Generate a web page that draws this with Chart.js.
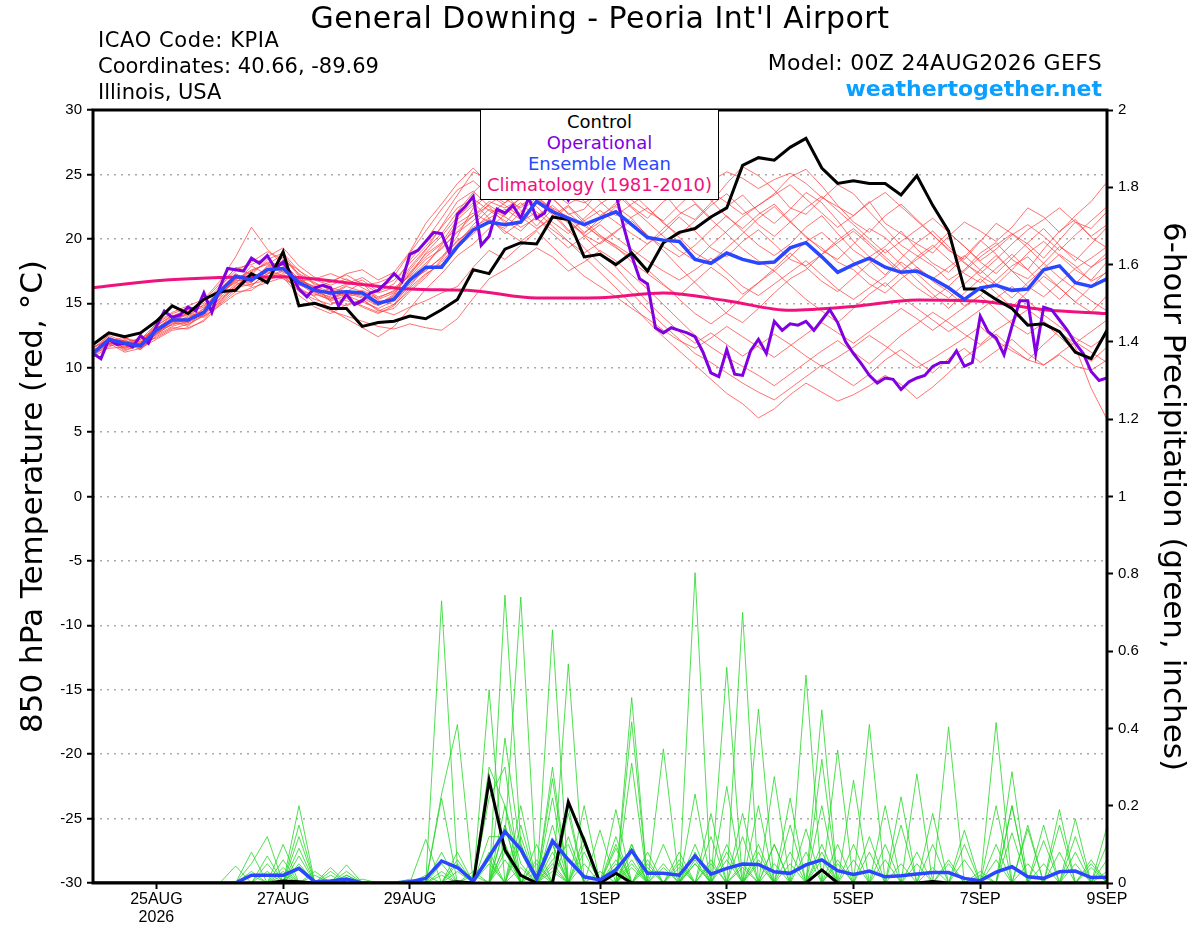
<!DOCTYPE html>
<html>
<head>
<meta charset="utf-8">
<title>General Downing - Peoria Int'l Airport</title>
<script src="https://cdn.jsdelivr.net/npm/chart.js@4.4.1/dist/chart.umd.min.js"></script>
<style>
  body { margin: 0; background: #fff; }
  #wrap { position: relative; width: 1200px; height: 927px; font-family: "DejaVu Sans", "Liberation Sans", Arial, sans-serif; }
  #meteogram { position: absolute; left: 0; top: 0; }
  .txt { position: absolute; white-space: nowrap; color: #000; }
  #legendBox { position: absolute; left: 480px; top: 109px; width: 237px; height: 88px; border: 1px solid #000;
               background: #fff; text-align: center; font-size: 18px; line-height: 21px; padding-top: 1px; }
</style>
</head>
<body>
<div id="wrap">
  <canvas id="meteogram" width="1200" height="927"></canvas>

  <div class="txt" style="left:0;width:1200px;text-align:center;top:1px;font-size:30px;line-height:34px;letter-spacing:0.5px">General Downing - Peoria Int'l Airport</div>
  <div class="txt" style="left:98px;top:27px;font-size:21px;line-height:26px;letter-spacing:0.6px">ICAO Code: KPIA</div>
  <div class="txt" style="left:98px;top:53px;font-size:21px;line-height:26px">Coordinates: 40.66, -89.69</div>
  <div class="txt" style="left:98px;top:79px;font-size:21px;line-height:26px">Illinois, USA</div>
  <div class="txt" style="right:98px;top:50px;font-size:22px;line-height:26px;letter-spacing:0.3px">Model: 00Z 24AUG2026 GEFS</div>
  <div class="txt" style="right:98px;top:75px;font-size:22px;line-height:28px;font-weight:bold;color:#0aa0ff">weathertogether.net</div>

  <div id="legendBox">
    <div style="color:#000">Control</div>
    <div style="color:#8000e0">Operational</div>
    <div style="color:#2a46ff">Ensemble Mean</div>
    <div style="color:#f0127c">Climatology (1981-2010)</div>
  </div>
</div>

<script>
// x axis: hours after 00Z 24AUG2026
const xTickHours = [24, 72, 120, 192, 240, 288, 336, 384];
const xTickLabels = [['25AUG', '2026'], '27AUG', '29AUG', '1SEP', '3SEP', '5SEP', '7SEP', '9SEP'];

// 850 hPa temperature (C), 6-hourly
const tempControl = [
  11.8, 12.7, 12.4, 12.7, 13.6, 14.8, 14.2, 15.3,
  15.9, 16.0, 17.3, 16.6, 19.0, 14.8, 15.0, 14.6,
  14.6, 13.2, 13.5, 13.6, 14.0, 13.8, 14.5, 15.3,
  17.6, 17.3, 19.2, 19.7, 19.6, 21.7, 21.5, 18.6,
  18.8, 18.0, 18.9, 17.5, 19.7, 20.5, 20.8, 21.7,
  22.4, 25.7, 26.3, 26.1, 27.1, 27.8, 25.5, 24.3,
  24.5, 24.3, 24.3, 23.4, 24.9, 22.6, 20.6, 16.1,
  16.1, 15.3, 14.6, 13.3, 13.4, 12.8, 11.2, 10.7,
  12.9
];

const tempMean = [
  11.1, 12.2, 11.9, 11.7, 12.9, 13.7, 13.7, 14.3,
  15.9, 17.1, 16.8, 17.6, 17.7, 16.6, 16.0, 15.8,
  15.9, 15.8, 15.0, 15.3, 16.8, 17.8, 17.8, 19.4,
  20.7, 21.3, 21.1, 21.3, 22.9, 22.1, 21.6, 21.1,
  21.6, 22.1, 21.1, 20.1, 19.9, 19.8, 18.4, 18.1,
  18.9, 18.4, 18.1, 18.2, 19.3, 19.7, 18.6, 17.4,
  18.0, 18.5, 17.8, 17.4, 17.5, 16.9, 16.2, 15.3,
  16.2, 16.4, 16.0, 16.1, 17.6, 17.9, 16.6, 16.3,
  16.9
];

// operational run, 3-hourly
const tempOperational = [
  11.1, 10.7, 12.2, 11.8, 11.9, 11.6, 12.5, 11.9,
  13.2, 14.4, 13.9, 14.1, 14.7, 14.4, 15.8, 14.3,
  16.2, 17.7, 17.6, 17.5, 18.5, 18.1, 18.7, 17.7,
  18.2, 17.3, 16.1, 15.5, 16.2, 16.4, 16.2, 14.8,
  15.7, 14.9, 15.2, 15.8, 16.0, 16.6, 17.3, 16.7,
  18.8, 19.1, 19.8, 20.5, 20.4, 18.9, 21.9, 22.5,
  23.3, 19.5, 20.2, 22.3, 22.0, 22.6, 21.6, 23.2,
  21.6, 22.0, 23.5, 24.0, 23.0, 24.0, 24.5, 25.0,
  24.5, 24.0, 23.5, 20.9, 18.7, 16.9, 16.5, 13.1,
  12.7, 13.1, 12.9, 12.7, 12.4, 11.2, 9.6, 9.3,
  11.4, 9.5, 9.4, 11.3, 12.2, 11.1, 13.6, 12.9,
  13.4, 13.3, 13.6, 12.9, 13.7, 14.5, 13.5, 12.0,
  11.1, 10.3, 9.4, 8.8, 9.2, 9.1, 8.3, 8.9,
  9.2, 9.4, 10.1, 10.4, 10.4, 11.3, 10.1, 10.4,
  14.0, 12.8, 12.3, 11.0, 13.2, 15.2, 15.2, 11.1,
  14.7, 14.5, 13.7, 12.9, 11.9, 11.1, 9.7, 9.0,
  9.2
];

// climatology, daily
const tempClimatology = [16.2, 16.75, 17.0, 17.06, 16.6, 16.1, 15.97, 15.4, 15.43, 15.8, 15.2, 14.45, 14.75, 15.25, 15.15, 14.5, 14.2];

// ensemble members, 6-hourly
const tempMembers = [
  [11.4, 12.0, 11.6, 11.9, 13.2, 14.1, 13.5, 14.6, 16.2, 17.8, 17.2, 18.4, 18.9,
   17.5, 16.8, 16.4, 16.9, 16.2, 15.5, 15.9, 17.8, 19.2, 20.4,
   22.1, 23.6, 24.8, 23.9, 24.6, 25.3, 24.1, 23.2, 22.8, 23.5,
   24.2, 23.0, 22.1, 21.4, 22.6, 23.8, 24.5, 25.2, 24.7, 23.9,
   24.6, 25.1, 24.3, 23.2, 22.5, 21.8, 22.9, 21.2, 20.4, 19.6,
   18.9, 20.2, 21.3, 20.6, 19.8, 20.9, 22.4, 21.7, 20.5, 21.8, 22.9, 24.4],
  [10.9, 11.8, 12.1, 11.5, 12.6, 13.4, 14.0, 14.9, 15.6, 16.9, 17.5, 18.1, 17.4,
   16.9, 16.2, 15.7, 16.4, 16.8, 15.9, 16.5, 18.3, 19.9, 21.6,
   23.4, 25.2, 24.6, 23.1, 22.4, 23.7, 24.9, 24.2, 22.9, 21.8,
   22.6, 23.9, 24.8, 23.6, 22.1, 21.5, 22.8, 24.3, 25.6, 24.9,
   23.8, 22.4, 21.9, 23.1, 24.2, 23.5, 22.1, 20.8, 19.5, 18.7,
   17.9, 16.8, 17.6, 18.9, 19.7, 18.4, 17.6, 19.2, 20.6, 21.5, 20.1, 19.3],
  [11.2, 12.4, 11.8, 12.1, 13.0, 13.8, 14.2, 14.0, 15.4, 16.5, 17.9, 17.2, 18.6,
   17.1, 15.9, 15.3, 15.8, 15.4, 14.8, 15.6, 17.4, 18.8, 19.7,
   21.5, 22.6, 23.8, 24.9, 25.4, 24.3, 23.6, 22.7, 23.4, 24.6,
   23.8, 22.5, 21.6, 22.9, 23.6, 24.9, 23.7, 22.8, 21.9, 22.6,
   23.5, 24.8, 25.4, 24.1, 22.6, 21.3, 20.5, 21.8, 22.7, 21.5,
   20.3, 19.1, 18.4, 19.8, 21.2, 20.4, 19.6, 18.5, 19.9, 21.3, 20.8, 22.1],
  [11.6, 12.1, 11.3, 11.8, 12.7, 13.5, 13.9, 14.4, 16.0, 17.3, 16.6, 17.9, 18.2,
   16.4, 16.1, 16.7, 17.2, 16.5, 15.8, 16.2, 17.1, 18.4, 19.2,
   20.6, 21.8, 22.9, 22.4, 23.1, 24.5, 23.2, 21.9, 22.3, 23.8,
   24.6, 25.3, 24.2, 23.1, 24.0, 22.8, 21.6, 22.5, 23.4, 22.1,
   21.2, 22.3, 23.6, 22.8, 21.4, 19.8, 18.6, 19.4, 20.6, 19.2,
   18.1, 17.4, 18.6, 19.9, 18.8, 17.5, 16.9, 18.1, 19.4, 18.6, 17.8, 18.9],
  [11.0, 12.3, 12.0, 11.6, 12.8, 13.9, 13.3, 14.1, 15.7, 16.7, 17.0, 17.6, 17.1,
   16.0, 15.6, 16.2, 15.9, 16.6, 15.2, 14.9, 16.5, 17.6, 18.5,
   20.2, 22.4, 23.5, 22.8, 24.0, 25.6, 24.7, 23.3, 24.1, 22.9,
   21.8, 22.7, 23.5, 24.4, 25.1, 24.2, 23.0, 21.7, 20.8, 21.9,
   22.7, 21.4, 20.1, 19.3, 18.2, 17.6, 16.5, 15.8, 16.9, 17.8,
   16.7, 15.9, 14.8, 15.6, 16.8, 17.9, 18.6, 17.4, 16.2, 15.1, 16.3, 17.5],
  [11.3, 11.9, 11.7, 12.2, 13.1, 13.6, 14.3, 14.7, 15.5, 17.0, 16.4, 17.3, 17.8,
   16.8, 16.3, 15.9, 15.5, 15.8, 15.1, 15.4, 16.8, 17.5, 18.6,
   19.8, 20.9, 21.6, 22.3, 21.5, 22.8, 21.9, 20.6, 21.4, 22.2,
   21.3, 20.4, 19.6, 20.5, 21.7, 20.6, 19.3, 18.6, 19.8, 20.7,
   19.6, 18.4, 17.9, 18.8, 19.9, 20.8, 19.7, 18.6, 17.5, 18.4,
   19.3, 20.5, 19.4, 18.2, 17.3, 18.5, 19.7, 20.8, 19.5, 18.3, 19.6, 20.9],
  [10.8, 11.6, 12.2, 11.4, 12.5, 13.2, 13.6, 14.2, 15.1, 16.4, 17.1, 16.9, 17.5,
   16.6, 15.8, 15.2, 15.6, 15.1, 14.6, 15.2, 16.3, 17.9, 19.5,
   21.2, 22.0, 21.3, 20.8, 22.1, 23.2, 22.4, 21.7, 20.5, 21.3,
   22.5, 21.6, 20.2, 19.4, 18.6, 19.5, 20.7, 21.8, 20.6, 19.5,
   18.7, 19.6, 20.9, 21.8, 20.4, 19.1, 18.3, 17.2, 18.5, 19.7,
   20.6, 19.4, 18.2, 17.1, 16.4, 17.6, 18.9, 19.8, 18.7, 17.6, 16.8, 18.2],
  [11.5, 12.2, 11.5, 11.9, 13.3, 14.0, 14.5, 15.0, 16.3, 17.5, 18.2, 19.0, 18.4,
   17.3, 16.6, 16.0, 16.5, 17.0, 16.2, 16.8, 18.1, 19.4, 20.9,
   22.4, 23.1, 22.2, 21.4, 20.6, 21.8, 22.6, 21.5, 20.3, 19.6,
   20.5, 21.7, 22.4, 21.3, 20.1, 18.9, 18.2, 19.3, 20.4, 21.6,
   22.5, 21.3, 20.2, 19.1, 18.4, 19.6, 20.8, 20.1, 18.9, 17.8,
   16.9, 17.8, 18.7, 17.6, 16.5, 15.4, 16.6, 17.7, 18.8, 17.9, 16.7, 17.4],
  [11.1, 12.6, 12.3, 11.8, 13.5, 14.3, 14.8, 15.3, 16.7, 18.6, 20.9, 19.2, 18.0,
   16.7, 16.9, 17.3, 16.8, 16.4, 16.6, 17.1, 18.9, 20.6, 22.3,
   23.8, 24.5, 23.4, 22.6, 21.7, 20.8, 21.6, 22.5, 21.2, 20.1,
   19.3, 18.5, 19.6, 20.8, 21.9, 22.7, 21.5, 20.4, 19.2, 18.3,
   17.5, 18.6, 19.8, 20.5, 19.4, 18.2, 17.1, 16.3, 17.4, 18.6,
   19.5, 18.4, 17.3, 16.6, 17.7, 18.8, 17.6, 16.4, 15.3, 16.5, 17.8, 18.6],
  [11.4, 11.7, 11.9, 12.3, 12.9, 13.3, 13.8, 14.6, 15.8, 16.6, 16.3, 17.5, 18.3,
   17.6, 16.4, 15.1, 14.8, 15.3, 14.4, 14.9, 16.0, 17.2, 18.2,
   19.6, 21.1, 22.3, 21.7, 20.9, 21.6, 20.4, 19.3, 20.2, 21.1,
   20.1, 19.2, 18.3, 17.5, 16.8, 17.6, 18.5, 17.4, 16.3, 15.6,
   16.5, 17.4, 18.3, 17.2, 16.1, 15.3, 16.2, 17.1, 18.2, 17.3,
   16.2, 15.4, 16.5, 17.6, 18.7, 17.5, 16.3, 15.5, 16.6, 17.7, 18.5, 19.4],
  [11.0, 12.0, 12.4, 11.6, 12.4, 13.1, 13.0, 13.7, 15.2, 16.2, 16.5, 16.8, 17.2,
   15.9, 15.3, 14.9, 15.4, 14.7, 14.2, 14.8, 16.2, 17.3, 18.0,
   19.3, 20.4, 21.5, 20.6, 19.8, 20.7, 21.8, 22.6, 21.4, 20.3,
   19.4, 18.2, 17.3, 16.4, 15.6, 16.7, 17.8, 16.9, 15.7, 16.6,
   17.7, 18.9, 17.8, 16.7, 15.9, 17.0, 18.1, 19.2, 18.0, 16.8,
   15.7, 14.6, 15.8, 16.9, 15.8, 14.7, 15.9, 17.1, 16.2, 15.1, 14.3, 15.6],
  [11.3, 12.1, 11.4, 11.7, 12.6, 13.7, 14.1, 13.9, 15.0, 16.1, 16.9, 17.4, 16.9,
   16.2, 15.5, 14.5, 13.8, 13.1, 12.4, 13.2, 14.6, 16.1, 17.3,
   18.7, 19.6, 20.8, 21.9, 22.8, 21.6, 20.7, 19.8, 18.9, 19.7,
   20.6, 21.4, 20.3, 19.1, 17.8, 16.6, 15.4, 14.2, 13.5, 14.6,
   15.8, 16.9, 17.6, 18.8, 19.7, 20.6, 19.5, 18.4, 17.3, 16.2,
   15.4, 16.3, 17.5, 18.6, 19.5, 20.4, 19.3, 18.1, 17.0, 16.1, 15.2, 14.4],
  [11.2, 11.5, 11.6, 12.0, 12.3, 13.0, 13.4, 14.0, 14.8, 15.7, 16.2, 16.6, 17.0,
   15.6, 14.7, 14.2, 14.9, 15.3, 14.5, 14.1, 14.7, 15.2, 15.8,
   16.3, 17.8, 19.1, 18.4, 19.5, 20.6, 19.4, 18.2, 17.1, 16.3,
   15.5, 14.6, 13.8, 12.9, 12.1, 11.5, 12.3, 13.2, 12.4, 11.6,
   10.8, 11.7, 12.6, 13.5, 12.7, 11.9, 12.8, 13.7, 14.6, 13.8,
   12.9, 13.8, 14.7, 15.6, 14.5, 13.4, 12.6, 13.5, 12.4, 11.3, 10.5, 11.6],
  [10.9, 11.9, 11.2, 11.5, 12.2, 12.9, 13.1, 13.6, 14.9, 15.9, 16.0, 16.9, 17.3,
   16.1, 15.0, 14.4, 14.0, 13.6, 13.2, 13.0, 13.4, 13.1, 12.9,
   13.8, 15.4, 16.9, 17.6, 18.4, 19.3, 18.6, 17.5, 18.2, 19.1,
   18.3, 17.2, 16.1, 14.9, 13.7, 12.5, 11.6, 10.8, 10.1, 9.4,
   8.6, 9.5, 10.4, 11.3, 12.1, 11.2, 10.3, 11.4, 12.5, 13.4,
   14.3, 13.5, 12.6, 11.8, 12.9, 13.7, 14.5, 13.6, 12.7, 11.9, 12.8, 13.7],
  [11.5, 12.5, 12.0, 12.2, 13.4, 14.2, 14.6, 14.8, 15.6, 16.8, 17.6, 18.0, 18.8,
   17.2, 16.5, 16.1, 15.6, 16.0, 15.4, 16.0, 17.2, 18.9, 20.2,
   21.7, 22.8, 21.6, 20.4, 21.3, 22.1, 21.0, 19.8, 18.6, 17.4,
   16.2, 14.9, 13.6, 12.4, 11.3, 10.2, 9.1, 8.0, 7.2, 6.1,
   6.8, 7.9, 8.8, 8.1, 7.4, 7.9, 8.6, 9.4, 8.7, 7.6,
   8.5, 9.6, 10.8, 11.7, 12.6, 11.5, 10.6, 11.8, 12.9, 11.6, 8.4, 6.0],
  [11.0, 12.1, 11.9, 11.4, 12.7, 13.6, 13.2, 14.5, 16.1, 17.2, 16.7, 17.8, 18.1,
   16.9, 16.0, 15.4, 15.9, 15.5, 14.9, 15.7, 17.6, 19.1, 21.0,
   22.9, 23.7, 22.5, 21.2, 22.6, 23.4, 22.1, 20.7, 19.3, 18.1,
   17.0, 15.8, 14.5, 13.3, 12.2, 11.1, 10.4, 9.6, 8.8, 8.1,
   7.5, 8.4, 9.3, 10.2, 9.4, 8.6, 9.5, 10.6, 11.4, 10.5,
   9.6, 10.7, 11.5, 10.4, 11.3, 12.2, 11.1, 10.2, 11.0, 10.1, 9.8, 10.6],
  [11.4, 11.8, 12.3, 12.0, 12.8, 13.6, 14.2, 14.3, 15.3, 16.3, 17.3, 17.0, 17.6,
   16.5, 15.7, 15.3, 16.0, 15.6, 15.0, 15.5, 17.0, 18.1, 19.3,
   20.5, 21.4, 22.7, 23.5, 22.2, 21.0, 22.3, 21.4, 20.2, 19.0,
   17.8, 16.4, 15.1, 13.9, 12.8, 11.9, 12.7, 11.8, 10.9, 11.7,
   12.6, 11.8, 10.9, 10.1, 10.8, 11.6, 12.5, 11.7, 10.8, 10.0,
   10.7, 11.5, 12.3, 13.2, 12.1, 11.3, 10.6, 10.2, 11.1, 12.0, 11.2, 10.4],
  [11.2, 12.3, 11.7, 11.9, 13.1, 13.8, 13.6, 14.4, 15.9, 16.9, 17.4, 18.2, 17.9,
   16.8, 16.2, 15.6, 16.3, 15.9, 15.3, 15.8, 17.3, 18.6, 19.6,
   20.9, 21.8, 22.6, 21.8, 23.3, 24.2, 23.1, 22.0, 21.0, 20.2,
   19.5, 18.7, 17.6, 16.5, 15.3, 14.2, 13.4, 14.3, 15.5, 16.6,
   17.5, 16.4, 15.3, 14.4, 13.5, 14.6, 15.7, 16.6, 15.5, 14.6,
   13.7, 12.8, 13.6, 14.5, 15.4, 16.3, 15.2, 14.1, 13.2, 12.3, 11.6, 12.5],
  [11.6, 12.2, 11.5, 11.9, 13.0, 14.0, 14.4, 15.2, 16.5, 17.7, 18.0, 18.6, 19.3,
   17.9, 17.0, 16.6, 17.3, 17.6, 16.8, 17.4, 19.0, 21.2, 22.7,
   24.3, 25.5, 24.2, 23.6, 24.4, 23.1, 22.3, 21.2, 20.4, 21.6,
   22.8, 23.6, 22.4, 21.2, 20.3, 21.4, 22.6, 23.5, 22.3, 21.1,
   20.2, 21.3, 22.4, 23.3, 22.2, 21.1, 20.0, 18.9, 19.8, 20.7,
   21.6, 20.5, 19.4, 18.3, 19.2, 20.3, 21.1, 20.2, 19.1, 20.3, 21.4, 22.5],
  [11.3, 12.0, 12.1, 11.7, 12.6, 13.4, 13.5, 14.1, 15.7, 16.8, 16.6, 17.7, 18.0,
   16.6, 15.9, 15.5, 15.2, 14.8, 14.3, 14.6, 15.9, 17.0, 18.4,
   19.9, 20.7, 21.9, 22.8, 23.6, 22.5, 21.3, 20.4, 21.6, 22.7,
   23.5, 22.4, 21.3, 20.2, 19.1, 18.3, 19.5, 20.6, 21.7, 22.6,
   23.4, 24.2, 23.1, 22.0, 20.9, 21.8, 22.8, 23.6, 22.5, 21.4,
   20.3, 19.2, 18.1, 17.3, 18.4, 19.6, 20.7, 21.5, 22.4, 21.3, 20.2, 21.1]
];

// 6-hour precipitation (inches), 6-hourly
const precipControl = [
  0, 0, 0, 0, 0, 0, 0, 0, 0, 0, 0, 0, .005, .003, 0, 0,
  0, 0, 0, 0, 0, 0, 0, .003, 0, .266, .085, .02, 0, 0, .21, .11,
  0, .025, 0, 0, 0, 0, 0, 0, 0, 0, 0, 0, 0, 0, .034, 0,
  0, 0, 0, 0, 0, .004, 0, 0, 0, 0, 0, 0, 0, 0, 0, 0,
  0
];

const precipMean = [
  0, 0, 0, 0, 0, 0, 0, 0, 0, 0, .02, .02, .02, .038, .003, .005,
  .01, 0, 0, 0, .003, .012, .057, .04, .005, .068, .133, .087, .012, .109, .06, .016,
  .008, .034, .084, .025, .025, .02, .07, .023, .038, .049, .048, .029, .025, .047, .06, .032,
  .022, .031, .016, .019, .023, .027, .027, .012, .006, .028, .042, .016, .012, .029, .031, .014,
  .015
];

const precipMembers = [
  [0, 0, 0, 0, 0, 0, 0, 0, 0, .044, 0, .03, 0, .12, 0, 0,
   0, 0, 0, 0, 0, 0, .05, 0, 0, 0, .1, 0, 0, .655, 0, 0,
   0, 0, 0, .08, 0, 0, 0, .18, 0, 0, 0, .1, 0, 0, 0, 0,
   .1, 0, 0, 0, 0, 0, .05, 0, 0, 0, 0, 0, 0, .08, 0, 0, 0],
  [0, 0, 0, 0, 0, 0, 0, 0, 0, 0, .08, 0, .04, 0, 0, .02,
   0, 0, 0, 0, 0, 0, .03, 0, 0, 0, .1, 0, 0, .27, 0, 0,
   .137, 0, 0, .06, 0, 0, 0, .12, 0, 0, 0, .05, 0, 0, 0, 0,
   0, .41, 0, 0, 0, 0, 0, .1, 0, 0, 0, 0, 0, 0, .12, 0, 0],
  [0, 0, 0, 0, 0, 0, 0, 0, 0, 0, .05, .12, 0, .04, 0, 0,
   0, 0, 0, 0, 0, 0, 0, .06, 0, 0, .08, 0, 0, .3, 0, 0,
   .03, 0, 0, .05, 0, 0, 0, 0, .558, 0, 0, 0, .15, 0, 0, 0,
   0, .08, 0, 0, 0, 0, 0, 0, .02, 0, 0, 0, 0, 0, .05, 0, 0],
  [0, 0, 0, 0, 0, 0, 0, 0, 0, 0, .03, 0, .1, 0, 0, 0,
   .03, 0, 0, 0, 0, 0, 0, .03, 0, 0, .06, 0, 0, .15, 0, 0,
   0, .19, 0, 0, .04, 0, 0, 0, .1, 0, 0, 0, 0, .538, 0, 0,
   0, 0, .1, 0, 0, 0, 0, 0, 0, .2, 0, 0, 0, 0, 0, .05, 0],
  [0, 0, 0, 0, 0, 0, 0, 0, 0, 0, .02, 0, 0, .2, 0, 0,
   0, 0, 0, 0, 0, 0, 0, 0, .02, 0, 0, .12, 0, .1, 0, 0,
   0, .12, 0, 0, 0, .08, 0, 0, 0, .7, 0, 0, 0, .08, 0, 0,
   0, 0, .06, 0, 0, 0, 0, 0, 0, .06, 0, 0, 0, 0, 0, 0, .1],
  [0, 0, 0, 0, 0, 0, 0, 0, 0, 0, 0, .07, 0, .15, 0, 0,
   .02, 0, 0, 0, 0, 0, 0, 0, .03, 0, 0, .1, 0, .1, 0, 0,
   0, 0, .48, 0, 0, .05, 0, 0, 0, .18, 0, 0, 0, 0, .448, 0,
   0, 0, 0, .223, 0, 0, 0, 0, 0, 0, .2, 0, 0, 0, 0, 0, .03],
  [0, 0, 0, 0, 0, 0, 0, 0, 0, 0, 0, .05, 0, .09, 0, 0,
   0, 0, 0, 0, 0, 0, 0, 0, 0, .5, 0, 0, .03, 0, .2, 0,
   0, 0, .417, 0, 0, 0, .08, 0, 0, 0, .45, 0, 0, 0, .08, 0,
   0, 0, 0, .05, 0, 0, 0, 0, 0, 0, .13, 0, 0, 0, 0, 0, 0],
  [0, 0, 0, 0, 0, 0, 0, 0, 0, 0, 0, 0, .06, 0, .03, 0,
   0, 0, 0, 0, 0, 0, 0, 0, 0, .3, .2, 0, 0, .08, 0, 0,
   0, .1, 0, 0, 0, .04, 0, 0, 0, .05, 0, 0, 0, 0, .32, 0,
   0, 0, 0, 0, .282, 0, 0, 0, 0, 0, 0, .14, 0, 0, 0, 0, 0],
  [0, 0, 0, 0, 0, 0, 0, 0, 0, 0, 0, 0, .03, 0, 0, .04,
   0, 0, 0, 0, 0, 0, 0, 0, 0, .22, .3, 0, 0, .06, .1, 0,
   0, 0, .31, 0, 0, 0, .06, 0, 0, 0, .2, 0, 0, 0, .06, 0,
   0, 0, 0, 0, .05, 0, 0, 0, 0, 0, 0, .05, 0, 0, 0, 0, 0],
  [0, 0, 0, 0, 0, 0, 0, 0, 0, 0, 0, 0, .02, 0, 0, 0,
   .047, 0, 0, 0, 0, 0, 0, 0, 0, .12, .12, .74, 0, 0, 0, .05,
   0, 0, .1, 0, 0, 0, .05, 0, 0, 0, .06, 0, 0, 0, 0, .344,
   0, 0, 0, 0, 0, .1, 0, 0, 0, 0, 0, 0, .11, 0, 0, 0, 0],
  [0, 0, 0, 0, 0, 0, 0, 0, 0, 0, 0, 0, 0, .07, 0, 0,
   0, 0, 0, 0, .01, 0, 0, 0, 0, .08, 0, .2, 0, .05, 0, 0,
   0, .09, 0, .04, 0, 0, 0, .06, 0, 0, 0, .275, 0, 0, 0, .06,
   0, 0, 0, 0, 0, 0, .404, 0, 0, 0, 0, 0, .15, 0, 0, 0, 0],
  [0, 0, 0, 0, 0, 0, 0, 0, 0, 0, 0, 0, 0, .05, 0, 0,
   0, 0, 0, 0, 0, .113, 0, 0, 0, .05, 0, .15, 0, .04, 0, 0,
   0, .06, 0, 0, .347, 0, 0, 0, .25, 0, 0, 0, .22, 0, 0, 0,
   .266, 0, 0, 0, 0, 0, .06, 0, 0, 0, 0, 0, .05, 0, 0, 0, 0],
  [0, 0, 0, 0, 0, 0, 0, 0, 0, 0, 0, 0, 0, 0, .02, 0,
   0, 0, 0, 0, 0, .02, 0, 0, 0, 0, .2, .05, 0, 0, .567, 0,
   0, 0, .1, 0, 0, 0, .05, 0, 0, 0, .05, 0, 0, 0, 0, .05,
   0, 0, 0, 0, 0, 0, 0, .137, 0, 0, 0, 0, 0, .19, 0, 0, 0],
  [0, 0, 0, 0, 0, 0, 0, 0, 0, 0, 0, 0, 0, 0, 0, .03,
   0, 0, 0, 0, 0, 0, .73, .04, 0, 0, 0, .04, 0, .03, 0, 0,
   0, .04, 0, 0, .1, 0, 0, 0, .08, 0, 0, 0, .08, 0, 0, 0,
   .06, 0, 0, 0, 0, 0, 0, .06, 0, 0, 0, 0, 0, .15, 0, 0, 0],
  [0, 0, 0, 0, 0, 0, 0, 0, 0, 0, 0, 0, 0, 0, 0, 0,
   .02, 0, 0, 0, 0, 0, .23, .41, 0, 0, 0, 0, .1, 0, .18, 0,
   0, 0, .08, 0, 0, 0, 0, .05, 0, 0, 0, .1, 0, 0, 0, 0,
   0, .12, 0, 0, 0, 0, 0, 0, .03, 0, 0, 0, 0, 0, .166, 0, 0],
  [0, 0, 0, 0, 0, 0, 0, 0, 0, 0, 0, 0, 0, 0, 0, 0,
   0, .01, 0, 0, 0, 0, .22, 0, 0, .06, 0, 0, .06, 0, .12, 0,
   0, .05, 0, 0, .05, 0, 0, 0, .06, 0, 0, 0, .05, 0, 0, 0,
   0, 0, .2, 0, 0, 0, 0, 0, 0, .415, 0, 0, 0, 0, .08, 0, 0],
  [0, 0, 0, 0, 0, 0, 0, 0, 0, 0, 0, 0, 0, 0, 0, 0,
   0, 0, 0, 0, 0, 0, .08, 0, 0, 0, .745, .1, 0, 0, 0, .2,
   0, .03, 0, 0, 0, .06, 0, 0, 0, .12, 0, 0, 0, .14, 0, 0,
   0, 0, 0, .15, 0, 0, 0, 0, 0, .1, 0, 0, 0, 0, 0, .06, 0],
  [0, 0, 0, 0, 0, 0, 0, 0, 0, 0, 0, 0, 0, 0, 0, 0,
   0, 0, 0, 0, 0, 0, .02, 0, 0, 0, .375, .08, 0, 0, 0, .12,
   0, 0, .06, 0, 0, 0, .803, 0, 0, .04, 0, 0, 0, 0, .2, 0,
   0, 0, 0, 0, .08, 0, 0, 0, 0, 0, .288, 0, 0, 0, 0, .04, 0],
  [0, 0, 0, 0, 0, 0, 0, 0, 0, 0, 0, 0, 0, 0, 0, 0,
   0, 0, 0, 0, 0, 0, 0, .08, 0, 0, .15, 0, .05, 0, 0, .1,
   0, 0, .05, 0, 0, 0, .23, 0, 0, 0, .1, 0, 0, 0, .1, 0,
   0, 0, 0, 0, 0, .18, 0, 0, 0, 0, .2, 0, 0, 0, 0, 0, .146],
  [0, 0, 0, 0, 0, 0, 0, 0, 0, 0, 0, 0, 0, 0, 0, 0,
   0, 0, 0, 0, 0, 0, 0, .05, 0, 0, .15, 0, 0, .22, 0, .08,
   0, 0, .04, 0, 0, 0, .1, 0, 0, 0, .08, 0, 0, 0, 0, .1,
   0, 0, 0, 0, 0, .04, 0, 0, 0, 0, 0, .15, 0, 0, 0, 0, .06]
];

const FONT = '"Liberation Sans", Arial, sans-serif';
const WIDE_FONT = '"DejaVu Sans", "Liberation Sans", sans-serif';

function toPoints(values, stepHours) {
    return values.map((v, i) => ({ x: i * stepHours, y: v }));
}

const datasets = [];

// thick lines first so they sit on top
datasets.push({ data: toPoints(tempControl, 6), yAxisID: 'yT', borderColor: '#000000', borderWidth: 3, order: 2 });
datasets.push({ data: toPoints(tempOperational, 3), yAxisID: 'yT', borderColor: '#8000e0', borderWidth: 3, order: 3 });
datasets.push({ data: toPoints(tempMean, 6), yAxisID: 'yT', borderColor: '#2a46ff', borderWidth: 3.5, order: 1 });
datasets.push({ data: toPoints(tempClimatology, 24), yAxisID: 'yT', borderColor: '#f0127c', borderWidth: 3,
                cubicInterpolationMode: 'monotone', order: 4 });
datasets.push({ data: toPoints(precipControl, 6), yAxisID: 'yP', borderColor: '#000000', borderWidth: 3, order: 2 });
datasets.push({ data: toPoints(precipMean, 6), yAxisID: 'yP', borderColor: '#2a46ff', borderWidth: 3.5, order: 1 });

for (var m = 0; m < tempMembers.length; m++) {
    datasets.push({ data: toPoints(tempMembers[m], 6), yAxisID: 'yT', borderColor: 'rgba(255,60,60,0.8)', borderWidth: 0.9, order: 10 });
}
for (var m = 0; m < precipMembers.length; m++) {
    datasets.push({ data: toPoints(precipMembers[m], 6), yAxisID: 'yP', borderColor: 'rgba(40,215,40,0.9)', borderWidth: 0.9, order: 10 });
}

// black frame round the plot area
const frame = {
    id: 'frame',
    afterDraw(chart) {
        const a = chart.chartArea;
        const c = chart.ctx;
        c.save();
        c.strokeStyle = '#000';
        c.lineWidth = 3;
        c.strokeRect(a.left, a.top, a.right - a.left, a.bottom - a.top);
        c.restore();
    }
};

new Chart(document.getElementById('meteogram'), {
    type: 'line',
    data: { datasets: datasets },
    plugins: [frame],
    options: {
        responsive: false,
        animation: false,
        devicePixelRatio: 1,
        layout: { padding: { top: 110, left: 0, right: 0, bottom: 0 } },
        plugins: { legend: { display: false }, tooltip: { enabled: false }, title: { display: false } },
        elements: { point: { radius: 0 }, line: { tension: 0, fill: false } },
        scales: {
            x: {
                type: 'linear', position: 'bottom', min: 0, max: 384,
                afterBuildTicks: function (scale) { scale.ticks = xTickHours.map(h => ({ value: h })); },
                afterFit: function (scale) { scale.height = 44; },
                ticks: {
                    autoSkip: false, maxRotation: 0, padding: 2, color: '#000',
                    font: { family: FONT, size: 16, lineHeight: 1.1 },
                    callback: function (value, index) { return xTickLabels[index]; }
                },
                grid: { drawOnChartArea: false, drawTicks: true, tickLength: 6, tickColor: '#000', tickWidth: 2 },
                border: { display: false }
            },
            yT: {
                type: 'linear', position: 'left', min: -30, max: 30,
                afterFit: function (scale) { scale.width = 93; },
                ticks: { stepSize: 5, padding: 5, color: '#000', font: { family: FONT, size: 15 } },
                grid: { color: '#aaaaaa', lineWidth: 1.5, drawTicks: true, tickLength: 6, tickColor: '#000', tickWidth: 2 },
                border: { display: false, dash: [2, 5] },
                title: { display: true, text: '850 hPa Temperature (red, °C)', color: '#000',
                         font: { family: WIDE_FONT, size: 31 }, padding: { top: 15, bottom: 0 } }
            },
            yP: {
                type: 'linear', position: 'right', min: 0, max: 2,
                afterFit: function (scale) { scale.width = 93; },
                ticks: { stepSize: 0.2, padding: 5, color: '#000', font: { family: FONT, size: 15 },
                         callback: function (v) { return String(Math.round(v * 10) / 10); } },
                grid: { drawOnChartArea: false, drawTicks: true, tickLength: 6, tickColor: '#000', tickWidth: 2 },
                border: { display: false },
                title: { display: true, text: '6-hour Precipitation (green, inches)', color: '#000',
                         font: { family: WIDE_FONT, size: 31 }, padding: { top: 9, bottom: 0 } }
            }
        }
    }
});
</script>
</body>
</html>
